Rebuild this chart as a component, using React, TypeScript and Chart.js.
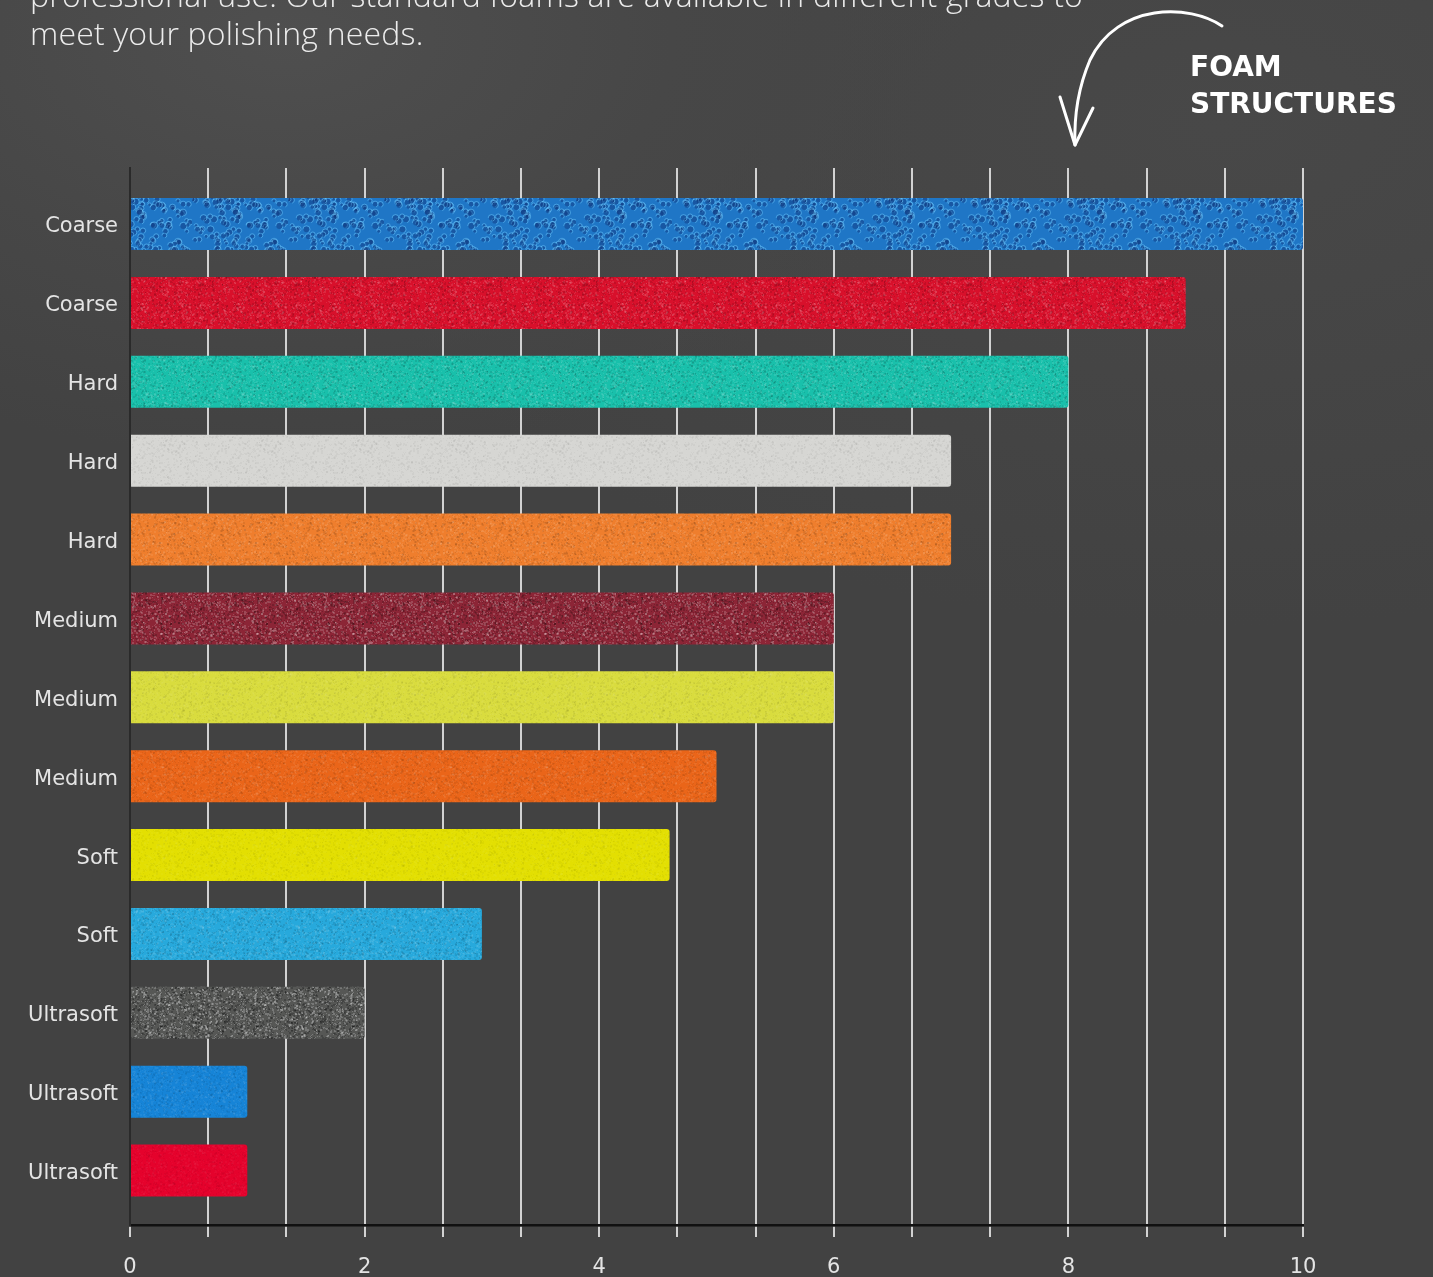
import React, { useEffect, useRef } from "react";
import { Chart, registerables } from "chart.js";

Chart.register(...registerables);

const categories = [
  "Coarse", "Coarse", "Hard", "Hard", "Hard",
  "Medium", "Medium", "Medium", "Soft", "Soft",
  "Ultrasoft", "Ultrasoft", "Ultrasoft",
];
const values = [10, 9, 8, 7, 7, 6, 6, 5, 4.6, 3, 2, 1, 1];
const barColors = [
  "#1f76c6", "#d8102b", "#19c0ab", "#d6d6d3", "#ef7e2d",
  "#8c2536", "#d9dc3e", "#ea6519", "#e3df02", "#27a9dc",
  "#565755", "#1684d7", "#e5022c",
];
// texture style per bar: "cells" = open foam cells, number = speckle strength
const barTextures: (string | number)[] = [
  "cells", 0.1, 0.09, 0.03, 0.07, 0.16, 0.04, 0.06, 0.03, 0.08, 0.2, 0.05, 0.03,
];
const xLabelValues = [0, 2, 4, 6, 8, 10];
const introLines = [
  "professional use. Our standard foams are available in different grades to",
  "meet your polishing needs.",
];
const calloutLines = ["FOAM", "STRUCTURES"];

function hash(n: number) {
  const s = Math.sin(n * 12.9898 + 78.233) * 43758.5453;
  return s - Math.floor(s);
}

function makePattern(color: string, texture: string | number, seed: number) {
  const c = document.createElement("canvas");
  const size = 96;
  c.width = size;
  c.height = size;
  const g = c.getContext("2d")!;
  g.fillStyle = color;
  g.fillRect(0, 0, size, size);
  if (texture === "cells") {
    for (let i = 0; i < 260; i++) {
      const x = hash(seed * 1000 + i * 3) * size;
      const y = hash(seed * 1000 + i * 3 + 1) * size;
      const r = 1.2 + hash(seed * 1000 + i * 3 + 2) * 1.8;
      g.fillStyle = "rgba(15,50,120,0.45)";
      g.beginPath();
      g.arc(x, y, r, 0, Math.PI * 2);
      g.fill();
      g.strokeStyle = "rgba(110,200,250,0.55)";
      g.lineWidth = 0.9;
      g.beginPath();
      g.arc(x, y, r + 0.7, Math.PI * 1.0, Math.PI * 2.4);
      g.stroke();
    }
    return g.createPattern(c, "repeat");
  }
  const k = texture as number;
  if (k <= 0) return g.createPattern(c, "repeat");
  for (let i = 0; i < 2600; i++) {
    const x = Math.floor(hash(seed * 5000 + i * 2) * size);
    const y = Math.floor(hash(seed * 5000 + i * 2 + 1) * size);
    const light = hash(seed * 7000 + i) > 0.5;
    const sz = hash(seed * 9000 + i) > 0.6 ? 2 : 1;
    g.fillStyle = light ? `rgba(255,255,255,${k})` : `rgba(0,0,0,${k})`;
    g.fillRect(x, y, sz, sz);
  }
  return g.createPattern(c, "repeat");
}

export default function App() {
  const canvasRef = useRef<HTMLCanvasElement | null>(null);

  useEffect(() => {
    document.body.style.margin = "0";
    const canvas = canvasRef.current;
    if (!canvas) return;
    const fills = barColors.map((col, i) => makePattern(col, barTextures[i], i + 1) || col);
    const chart = new Chart(canvas, {
      type: "bar",
      data: {
        datasets: [
          {
            data: values.map((v, i) => ({ x: v, y: i })),
            backgroundColor: fills,
            borderWidth: 0,
            borderRadius: 3,
            borderSkipped: "start",
            barPercentage: 0.659,
            categoryPercentage: 1,
          },
        ],
      },
      options: {
        indexAxis: "y",
        responsive: false,
        animation: false,
        layout: { padding: { left: 0, right: 130, top: 168, bottom: 0 } },
        plugins: { legend: { display: false }, tooltip: { enabled: false } },
        scales: {
          x: {
            type: "linear",
            min: 0,
            max: 10,
            afterFit: (s: any) => {
              s.height = 52;
            },
            ticks: {
              stepSize: 2 / 3,
              autoSkip: false,
              maxRotation: 0,
              padding: 18,
              color: "#e4e4e4",
              font: { family: "DejaVu Sans", size: 21 },
              callback: (v: any) => {
                const r = Math.round(v);
                return Math.abs(v - r) < 1e-6 && xLabelValues.includes(r) ? String(r) : "";
              },
            },
            grid: {
              color: "#d2d2d2",
              lineWidth: 2,
              drawTicks: true,
              tickLength: 12,
              tickColor: "#d2d2d2",
              tickWidth: 2,
            },
            border: { display: true, color: "#111111", width: 2.5 },
          },
          y: {
            type: "linear",
            offset: false,
            min: -0.71,
            max: 12.69,
            reverse: true,
            afterFit: (s: any) => {
              s.width = 130;
            },
            ticks: {
              stepSize: 1,
              includeBounds: false,
              autoSkip: false,
              padding: 12,
              labelOffset: 3,
              color: "#e4e4e4",
              font: { family: "DejaVu Sans", size: 21 },
              callback: (v: any) => (Number.isInteger(v) ? categories[v] ?? "" : ""),
            },
            grid: { display: false, offset: false, drawTicks: false, tickLength: 0 },
            border: { display: true, color: "#2a2a2a", width: 2 },
          },
        },
      },
    } as any);
    return () => chart.destroy();
  }, []);

  return (
    <div
      style={{
        position: "fixed",
        left: 0,
        top: 0,
        width: 1433,
        height: 1277,
        overflow: "hidden",
        background:
          "radial-gradient(ellipse 700px 420px at 20% 3%, #4f4f4f 0%, #474747 55%, rgba(66,66,66,0) 100%), radial-gradient(ellipse 900px 500px at 85% 10%, #484848 0%, rgba(66,66,66,0) 100%), #424242",
      }}
    >
      <canvas
        ref={canvasRef}
        width={1433}
        height={1277}
        style={{ position: "absolute", left: 0, top: 0, width: 1433, height: 1277 }}
      />
      <div
        style={{
          position: "absolute",
          left: 30,
          top: -24,
          fontFamily: "'Open Sans'",
          fontWeight: 300,
          fontSize: 32,
          lineHeight: "38px",
          letterSpacing: "0.2px",
          color: "#ececec",
          whiteSpace: "nowrap",
        }}
      >
        {introLines.map((l, i) => (
          <div key={i}>{l}</div>
        ))}
      </div>
      <div
        style={{
          position: "absolute",
          left: 1190,
          top: 48,
          fontFamily: "'DejaVu Sans'",
          fontWeight: 700,
          fontSize: 28,
          lineHeight: "37px",
          color: "#ffffff",
          whiteSpace: "nowrap",
        }}
      >
        {calloutLines.map((l, i) => (
          <div key={i}>{l}</div>
        ))}
      </div>
      <svg
        width={1433}
        height={200}
        style={{ position: "absolute", left: 0, top: 0, pointerEvents: "none" }}
      >
        <path
          d="M1222 26 C1190 4, 1118 2, 1090 60 C1078 88, 1074 118, 1075 145"
          fill="none"
          stroke="#ffffff"
          strokeWidth={3}
          strokeLinecap="round"
        />
        <path
          d="M1060 97 L1075 145 L1093 108"
          fill="none"
          stroke="#ffffff"
          strokeWidth={3}
          strokeLinecap="round"
          strokeLinejoin="round"
        />
      </svg>
    </div>
  );
}
